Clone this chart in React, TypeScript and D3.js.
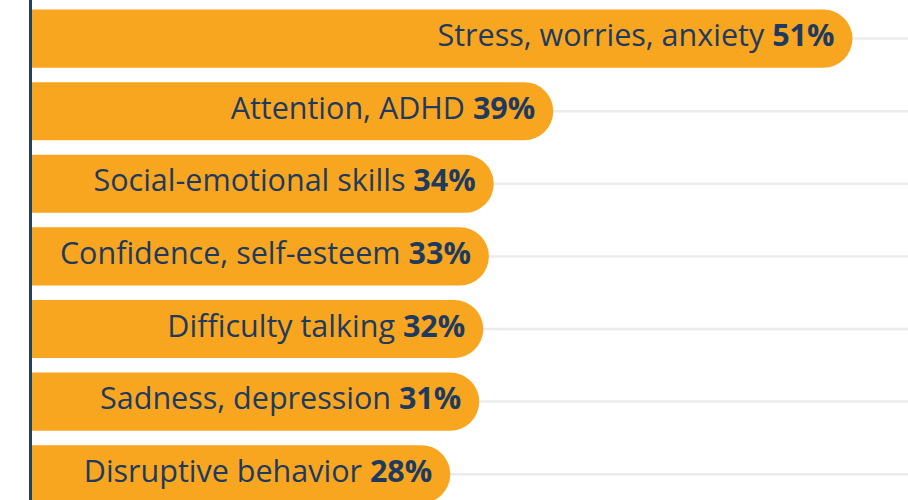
import * as d3 from "d3";
import { useEffect, useRef } from "react";

// categories, top to bottom
const categories = [
  "Stress, worries, anxiety",
  "Attention, ADHD",
  "Social-emotional skills",
  "Confidence, self-esteem",
  "Difficulty talking",
  "Sadness, depression",
  "Disruptive behavior",
];

// printed shares (%)
const shares = [51, 39, 34, 33, 32, 31, 28];

// bar lengths as drawn in % units
const barValues = [51, 32.4, 28.7, 28.4, 28.05, 27.8, 26.0];

const ORANGE = "#f8a620";
const NAVY = "#1e3a5f";

export default function App() {
  const ref = useRef<SVGSVGElement | null>(null);
  const width = 908;
  const height = 500;
  const axisX = 32;

  useEffect(() => {
    const svg = d3.select(ref.current);
    svg.selectAll("*").remove();

    const x = d3.scaleLinear().domain([0, 51]).range([axisX, 852.5]);
    const y = d3
      .scaleBand<string>()
      .domain(categories)
      .range([2.3, 510.5])
      .paddingInner(0.2)
      .paddingOuter(0.1);

    const bw = y.bandwidth();
    const r = bw / 2;

    // gridlines through each bar center
    svg
      .append("g")
      .selectAll("line")
      .data(categories)
      .join("line")
      .attr("x1", axisX)
      .attr("x2", width)
      .attr("y1", (d) => (y(d) as number) + r)
      .attr("y2", (d) => (y(d) as number) + r)
      .attr("stroke", "#ececec")
      .attr("stroke-width", 2.5);

    // bars: square left, round right end
    svg
      .append("g")
      .selectAll("path")
      .data(categories)
      .join("path")
      .attr("fill", ORANGE)
      .attr("d", (d, i) => {
        const y0 = y(d) as number;
        const x1 = x(barValues[i]);
        const p = d3.path();
        p.moveTo(axisX, y0);
        p.lineTo(x1 - r, y0);
        p.arc(x1 - r, y0 + r, r, -Math.PI / 2, Math.PI / 2);
        p.lineTo(axisX, y0 + bw);
        p.closePath();
        return p.toString();
      });

    // labels inside bars
    const label = svg
      .append("g")
      .selectAll("text")
      .data(categories)
      .join("text")
      .attr("x", (d, i) => x(barValues[i]) - 18)
      .attr("y", (d) => (y(d) as number) + r + 7.5)
      .attr("text-anchor", "end")
      .style("font-family", "'Open Sans', sans-serif")
      .style("font-size", "30.5px")
      .attr("fill", NAVY);

    label.append("tspan").text((d) => d + " ");
    label
      .append("tspan")
      .attr("font-weight", "bold")
      .text((d, i) => shares[i] + "%");

    // left axis line
    svg
      .append("line")
      .attr("x1", axisX - 1.5)
      .attr("x2", axisX - 1.5)
      .attr("y1", 0)
      .attr("y2", height)
      .attr("stroke", "#243f63")
      .attr("stroke-width", 3);
  }, []);

  return (
    <svg
      ref={ref}
      width={width}
      height={height}
      style={{ position: "absolute", left: 0, top: 0, display: "block", background: "#fff" }}
    />
  );
}
